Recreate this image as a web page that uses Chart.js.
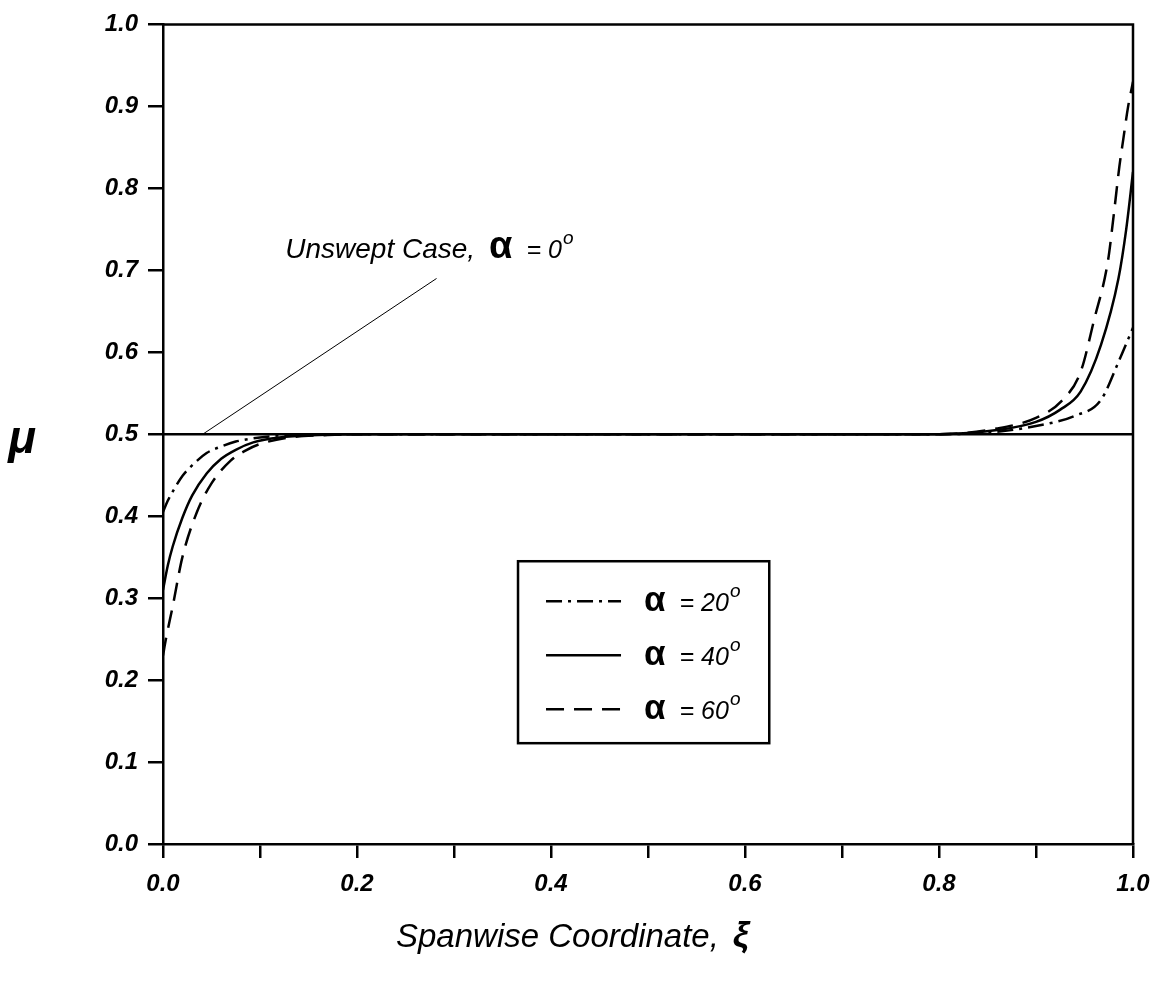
<!DOCTYPE html>
<html>
<head>
<meta charset="utf-8">
<script src="https://cdn.jsdelivr.net/npm/chart.js@4.4.1/dist/chart.umd.min.js"></script>
<style>
  html, body { margin: 0; padding: 0; background: #ffffff; }
  #wrap { width: 1174px; height: 981px; }
</style>
</head>
<body>
<div id="wrap"><canvas id="c" width="1174" height="981"></canvas></div>
<script>
// Spanwise distribution of mu for swept wings
const unsweptX = [0, 1];
const unsweptY = [0.5, 0.5];

const alpha20X = [0, 0.005, 0.01, 0.02, 0.03, 0.045, 0.06, 0.075, 0.1, 0.13, 0.2, 0.5, 0.8, 0.86, 0.9, 0.939, 0.967, 0.985, 1.0];
const alpha20Y = [0.405, 0.419, 0.43, 0.449, 0.462, 0.477, 0.485, 0.491, 0.496, 0.499, 0.5, 0.5, 0.5, 0.503, 0.51, 0.522, 0.542, 0.588, 0.63];

const alpha40X = [0, 0.005, 0.01, 0.02, 0.03, 0.045, 0.06, 0.075, 0.093, 0.12, 0.16, 0.2, 0.5, 0.8, 0.86, 0.9, 0.925, 0.946, 0.967, 0.985, 0.993, 1.0];
const alpha40Y = [0.31, 0.34, 0.363, 0.398, 0.425, 0.452, 0.47, 0.481, 0.49, 0.496, 0.499, 0.5, 0.5, 0.5, 0.505, 0.515, 0.53, 0.552, 0.609, 0.69, 0.75, 0.82];

const alpha60X = [0, 0.003, 0.01, 0.02, 0.035, 0.05, 0.07, 0.085, 0.1, 0.13, 0.17, 0.2, 0.5, 0.8, 0.86, 0.9, 0.926, 0.946, 0.96, 0.974, 0.98, 0.986, 0.99, 0.995, 1.0];
const alpha60Y = [0.23, 0.25, 0.29, 0.35, 0.405, 0.44, 0.468, 0.48, 0.488, 0.496, 0.499, 0.5, 0.5, 0.5, 0.507, 0.52, 0.54, 0.576, 0.64, 0.71, 0.766, 0.827, 0.86, 0.9, 0.93];

// leader line from the unswept curve to its label
const leaderX = [0.041, 0.282];
const leaderY = [0.5, 0.69];

const legendAngles = ['20', '40', '60'];
const xTickLabels = ['0.0', '0.2', '0.4', '0.6', '0.8', '1.0'];

const FONT = "'Liberation Sans', Arial, sans-serif";

function pts(xs, ys) { return xs.map((x, i) => ({ x: x, y: ys[i] })); }

// frame on top and right of the plot
const framePlugin = {
  id: 'frame',
  beforeDatasetsDraw(chart) {
    const { ctx, chartArea: a } = chart;
    ctx.save();
    ctx.strokeStyle = '#000';
    ctx.lineWidth = 2.5;
    ctx.beginPath();
    ctx.moveTo(a.left, a.top);
    ctx.lineTo(a.right, a.top);
    ctx.lineTo(a.right, a.bottom);
    ctx.stroke();
    ctx.restore();
  }
};

// draws "α = NN°" with a raised small o for the degree sign
function drawAlphaLabel(ctx, x, y, value, alphaSize, textSize) {
  ctx.textBaseline = 'alphabetic';
  ctx.textAlign = 'left';
  ctx.font = `bold ${alphaSize}px ${FONT}`;
  ctx.fillText('α', x, y);
  let cx = x + ctx.measureText('α').width + 14;
  ctx.font = `italic ${textSize}px ${FONT}`;
  const s = '= ' + value;
  ctx.fillText(s, cx, y);
  cx += ctx.measureText(s).width + 1;
  ctx.font = `italic ${Math.round(textSize * 0.75)}px ${FONT}`;
  ctx.fillText('o', cx, y - textSize * 0.55);
}

const textPlugin = {
  id: 'texts',
  afterDraw(chart) {
    const { ctx } = chart;
    const xs = chart.scales.x, ys = chart.scales.y;
    ctx.save();
    ctx.fillStyle = '#000';

    // y axis symbol
    ctx.font = `bold italic 46px ${FONT}`;
    ctx.textAlign = 'center';
    ctx.textBaseline = 'middle';
    ctx.fillText('μ', 22, ys.getPixelForValue(0.5) + 6);

    // x axis title
    ctx.textAlign = 'left';
    ctx.textBaseline = 'alphabetic';
    ctx.font = `italic 33px ${FONT}`;
    const xt = 'Spanwise Coordinate,';
    const tx = 396, tyb = 947;
    ctx.fillText(xt, tx, tyb);
    const xw = ctx.measureText(xt).width;
    ctx.font = `bold italic 36px ${FONT}`;
    ctx.fillText('ξ', tx + xw + 14, tyb);

    // unswept case label
    const lx = xs.getPixelForValue(0.126);
    const ly = ys.getPixelForValue(0.735) + 16;
    ctx.font = `italic 28px ${FONT}`;
    const t = 'Unswept Case,';
    ctx.fillText(t, lx, ly);
    drawAlphaLabel(ctx, lx + ctx.measureText(t).width + 14, ly, '0', 38, 25);

    // legend box
    const bx = xs.getPixelForValue(0.366), bx2 = xs.getPixelForValue(0.625);
    const by = ys.getPixelForValue(0.345), by2 = ys.getPixelForValue(0.123);
    ctx.lineWidth = 2.5;
    ctx.strokeStyle = '#000';
    ctx.strokeRect(bx, by, bx2 - bx, by2 - by);
    const rows = [chart.data.datasets[1], chart.data.datasets[2], chart.data.datasets[3]];
    rows.forEach((ds, i) => {
      const ry = by + 40 + i * 54;
      ctx.save();
      ctx.lineWidth = 2.5;
      ctx.setLineDash(ds.borderDash || []);
      ctx.beginPath();
      ctx.moveTo(bx + 28, ry);
      ctx.lineTo(bx + 103, ry);
      ctx.stroke();
      ctx.restore();
      drawAlphaLabel(ctx, bx + 126, ry + 10, legendAngles[i], 35, 25);
    });
    ctx.restore();
  }
};

new Chart(document.getElementById('c'), {
  type: 'scatter',
  data: {
    datasets: [
      { label: 'Unswept', data: pts(unsweptX, unsweptY), borderColor: '#000', borderWidth: 2.5 },
      { label: 'α = 20°', data: pts(alpha20X, alpha20Y), borderColor: '#000', borderWidth: 2.5, borderDash: [16, 6, 3, 6] },
      { label: 'α = 40°', data: pts(alpha40X, alpha40Y), borderColor: '#000', borderWidth: 2.5 },
      { label: 'α = 60°', data: pts(alpha60X, alpha60Y), borderColor: '#000', borderWidth: 2.5, borderDash: [18, 10] },
      { label: 'leader', data: pts(leaderX, leaderY), borderColor: '#000', borderWidth: 1 }
    ].map(d => Object.assign({ showLine: true, pointRadius: 0, fill: false, cubicInterpolationMode: 'monotone' }, d))
  },
  options: {
    responsive: false,
    animation: false,
    layout: { padding: { left: 0, right: 41, top: 19, bottom: 0 } },
    plugins: { legend: { display: false }, tooltip: { enabled: false } },
    scales: {
      x: {
        type: 'linear', min: 0, max: 1,
        afterFit(s) { s.height = 137; },
        border: { display: true, color: '#000', width: 2.5 },
        grid: { drawOnChartArea: false, drawTicks: true, tickLength: 14, color: '#000', lineWidth: 2.5 },
        ticks: {
          stepSize: 0.1, color: '#000', padding: 12, maxRotation: 0, autoSkip: false,
          font: { family: FONT, size: 24, style: 'italic', weight: 'bold' },
          callback(v) {
            const k = Math.round(v * 10);
            return k % 2 === 0 ? xTickLabels[k / 2] : '';
          }
        }
      },
      y: {
        type: 'linear', min: 0, max: 1,
        afterFit(s) { s.width = 163; },
        border: { display: true, color: '#000', width: 2.5 },
        grid: { drawOnChartArea: false, drawTicks: true, tickLength: 15, color: '#000', lineWidth: 2.5 },
        ticks: {
          stepSize: 0.1, color: '#000', padding: 10,
          font: { family: FONT, size: 24, style: 'italic', weight: 'bold' },
          callback(v) { return v.toFixed(1); }
        }
      }
    }
  },
  plugins: [framePlugin, textPlugin]
});
</script>
</body>
</html>
